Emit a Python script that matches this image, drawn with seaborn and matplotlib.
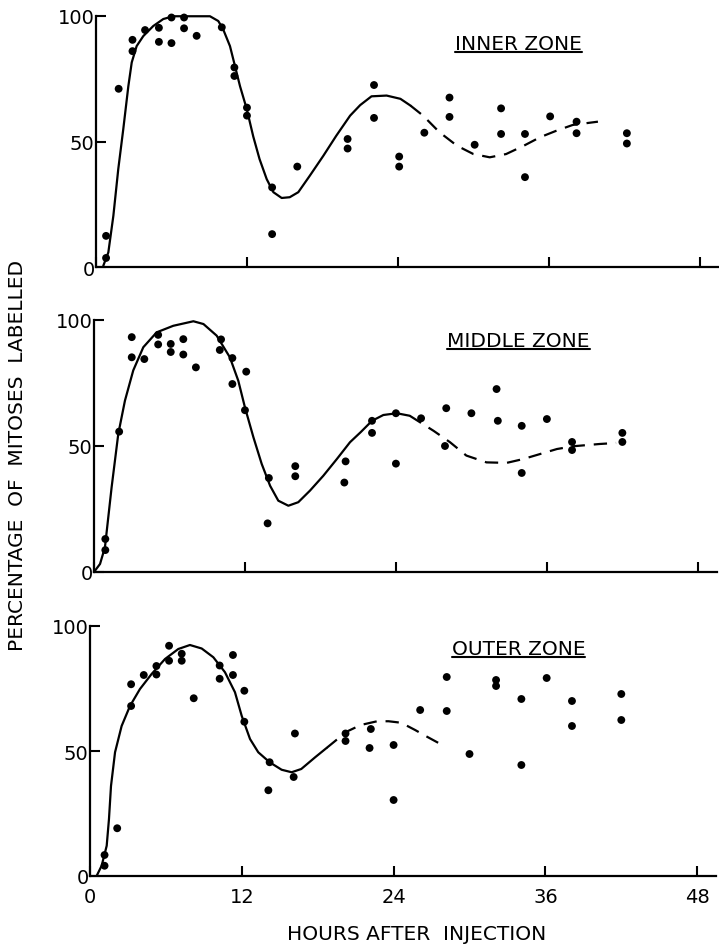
import matplotlib
matplotlib.use("Agg")
import matplotlib.pyplot as plt
import seaborn as sns
from matplotlib.lines import Line2D

# Percentage of labelled mitoses vs hours after injection, three zones
# points
inner_hours = [0.8, 0.8, 1.8, 2.9, 2.9, 3.9, 5.0, 5.0, 6.0, 6.0, 7.0, 7.0, 8.0, 10.0,
               11.0, 11.0, 12.0, 12.0, 14.0, 14.0, 16.0, 20.0, 20.0, 22.1, 22.1,
               24.1, 24.1, 26.1, 28.1, 28.1, 30.1, 32.2, 32.2, 34.1, 34.1, 36.1,
               38.2, 38.2, 42.2, 42.2]
inner_pct = [3.6, 12.4, 71, 90.5, 86, 94.4, 95.3, 89.7, 99.4, 89.2, 99.4, 95.1, 92.1, 95.5,
             79.5, 76.1, 63.5, 60.3, 31.7, 13.1, 40, 51, 47.2, 72.5, 59.4,
             44, 40, 53.5, 67.5, 59.8, 48.7, 63.2, 53, 53, 35.8, 60,
             57.9, 53.3, 53.3, 49.2]

middle_hours = [0.9, 0.9, 2.0, 3.0, 3.0, 4.0, 5.1, 5.1, 6.1, 6.1, 7.1, 7.1, 8.1, 10.1,
                10.0, 11.0, 11.0, 12.1, 12.0, 13.9, 13.8, 16.0, 16.0, 20.0, 19.9,
                22.1, 22.1, 24.0, 24.0, 26.0, 28.0, 27.9, 30.0, 32.0, 32.1, 34.0,
                34.0, 36.0, 38.0, 38.0, 42.0, 42.0]
middle_pct = [8.7, 13.1, 55.7, 93.2, 85.2, 84.5, 94.1, 90.3, 90.5, 87.3, 92.4, 86.3, 81.2, 92.3,
              88.1, 84.9, 74.6, 79.5, 64.2, 37.3, 19.3, 42, 38, 43.9, 35.5,
              60, 55.2, 63, 43, 61, 65, 50, 63, 72.6, 60, 58,
              39.3, 60.7, 51.6, 48.4, 55.2, 51.6]

outer_hours = [1.15, 1.15, 2.15, 3.25, 3.25, 4.25, 5.25, 5.25, 6.25, 6.25, 7.25, 7.25, 8.2,
               10.25, 10.25, 11.3, 11.3, 12.2, 12.2, 14.2, 14.1, 16.2, 16.1, 20.2, 20.2,
               22.2, 22.1, 24.0, 24.0, 26.1, 28.2, 28.2, 30.0, 32.1, 32.1, 34.1, 34.1,
               36.1, 38.1, 38.1, 42.0, 42.0]
outer_pct = [4.1, 8.4, 19.1, 76.7, 68, 80.4, 84, 80.6, 92.1, 86.1, 88.9, 86.1, 71.1,
             84.2, 78.9, 88.4, 80.4, 74.1, 61.7, 45.5, 34.3, 57, 39.6, 57, 54,
             58.8, 51.2, 52.4, 30.4, 66.4, 79.6, 66, 48.8, 78.4, 76, 70.8, 44.4,
             79.2, 70, 60, 72.8, 62.4]

# hand-drawn fitted curves: solid part, then dashed continuation
inner_fit_h = [0.58, 0.98, 1.38, 1.77, 2.17, 2.57, 2.84, 3.23, 3.76, 4.55, 5.35, 6.15, 7.47,
               9.06, 9.72, 10.1, 10.65, 11.05, 11.45, 11.98, 12.5, 13.0, 13.57, 14.1, 14.76,
               15.4, 16.08, 17.0, 18.07, 19.1, 20.2, 21.0, 21.9, 23.1, 24.2, 25.0]
inner_fit_pct = [0.5, 5.8, 20.4, 39, 55, 72, 81.5, 88, 92, 96, 98.8, 99.9, 99.9,
                 99.9, 98, 94.8, 88, 80, 72, 63, 52, 43, 35, 29.8, 27.5,
                 27.8, 29.8, 36.4, 44.3, 52.3, 60.3, 64.5, 68, 68.3, 67, 64.3]
inner_dash_h = [25.0, 26.0, 27.3, 28.7, 30.0, 31.3, 32.6, 34.0, 35.3, 36.6, 37.9, 39.9]
inner_dash_pct = [64.3, 60.3, 53.7, 48.3, 45, 43.7, 45, 48.3, 51.7, 54.3, 56.6, 57.9]

middle_fit_h = [0.0, 0.48, 0.87, 1.4, 1.93, 2.46, 3.12, 3.92, 4.98, 6.3, 7.9, 8.7, 9.75,
                10.8, 11.47, 12.0, 12.67, 13.33, 14.0, 14.65, 15.45, 16.24, 17.17, 18.23,
                19.3, 20.35, 21.2, 22.1, 23.0, 24.06, 25.1]
middle_fit_pct = [0.0, 3.2, 9.8, 33.6, 54.8, 68, 80, 89.2, 95.1, 97.7, 99.5, 98.4, 93.8,
                  85.2, 75.9, 65.3, 53.5, 42.9, 34.2, 28.3, 26.3, 27.7, 32.3, 38.2,
                  44.8, 51.5, 55.5, 60, 62.3, 63, 62]
middle_dash_h = [25.1, 27.0, 28.3, 29.6, 31.2, 32.8, 34.1, 35.45, 36.8, 38.1, 40.2, 41.5]
middle_dash_pct = [62, 56, 51.5, 46.2, 43.5, 43.3, 44.8, 46.8, 48.8, 49.9, 50.8, 51.2]

outer_fit_h = [0.53, 0.92, 1.32, 1.5, 1.66, 1.98, 2.5, 3.16, 3.95, 4.87, 5.93, 6.98, 7.9,
               8.83, 9.75, 10.67, 11.46, 11.99, 12.65, 13.3, 14.2, 15.15, 15.94, 16.7,
               17.8, 18.7]
outer_fit_pct = [0.1, 4.1, 12.1, 22.8, 36, 49.5, 60, 68, 74.8, 80.8, 86.8, 90.8, 92.4,
                 91, 87.5, 81.5, 73.5, 64.1, 54.8, 49.5, 45.5, 42.5, 41.5, 42.8,
                 47.5, 51.2]
outer_dash_h = [18.7, 19.5, 20.4, 21.4, 22.7, 23.6, 24.6, 25.7, 26.5, 27.7]
outer_dash_pct = [51.2, 54.5, 58, 60.4, 61.9, 61.9, 61.3, 58.4, 56.1, 52.8]

zone_names = ["INNER ZONE", "MIDDLE ZONE", "OUTER ZONE"]
x_ticks = [0, 12, 24, 36, 48]
y_ticks = [0, 50, 100]

sns.set_style("ticks")
plt.rcParams["font.family"] = ["DejaVu Sans"]
for key in ["text.color", "axes.edgecolor", "axes.labelcolor", "xtick.color", "ytick.color"]:
    plt.rcParams[key] = "black"

W, H = 719, 945
fig = plt.figure(figsize=(W / 100, H / 100), dpi=100)

# frame of each panel in pixels: left, y of 0%, y of 100%, px per hour, title baseline
frames = [(96, 268, 17, 12.58, 50),
          (94, 573, 321, 12.58, 347),
          (90, 877, 627, 12.65, 655)]
xmax = 49.5

series = [
    (inner_hours, inner_pct, inner_fit_h, inner_fit_pct, inner_dash_h, inner_dash_pct),
    (middle_hours, middle_pct, middle_fit_h, middle_fit_pct, middle_dash_h, middle_dash_pct),
    (outer_hours, outer_pct, outer_fit_h, outer_fit_pct, outer_dash_h, outer_dash_pct),
]

titles = []
for i, ((left, y0, y100, pph, tb), (hx, py, fh, fp, dh, dp)) in enumerate(zip(frames, series)):
    ax = fig.add_axes([left / W, (H - y0) / H, xmax * pph / W, (y0 - y100) / H])
    sns.lineplot(x=fh, y=fp, ax=ax, color="black", lw=1.6, estimator=None,
                 sort=False, clip_on=False)
    sns.lineplot(x=dh, y=dp, ax=ax, color="black", lw=1.6, estimator=None,
                 sort=False, clip_on=False, linestyle=(0, (6, 4)))
    sns.scatterplot(x=hx, y=py, ax=ax, color="black", s=32, edgecolor="none",
                    clip_on=False, zorder=3)
    ax.set_xlim(0, xmax)
    ax.set_ylim(0, 100)
    sns.despine(ax=ax)
    for side in ["left", "bottom"]:
        ax.spines[side].set_linewidth(1.6)
    ax.set_xticks(x_ticks)
    ax.set_yticks(y_ticks)
    ax.set_yticklabels([str(t) for t in y_ticks])
    ax.tick_params(direction="in", length=7, width=1.5, labelsize=14)
    ax.tick_params(axis="y", pad=1)
    ax.tick_params(axis="x", pad=8)
    if i < 2:
        ax.tick_params(axis="x", labelbottom=False)
    else:
        ax.set_xticklabels([str(t) for t in x_ticks])
    ax.set_xlabel("")
    ax.set_ylabel("")
    t = fig.text(518.5 / W, (H - tb) / H, zone_names[i], ha="center", va="baseline",
                 fontsize=14.5)
    titles.append((t, tb))

fig.text(417 / W, (H - 940) / H, "HOURS AFTER  INJECTION", ha="center",
         va="baseline", fontsize=14.5)
fig.text(17.5 / W, (H - 455) / H, "PERCENTAGE  OF  MITOSES  LABELLED", ha="center",
         va="center", rotation=90, fontsize=14.5)

# underline the zone titles
fig.canvas.draw()
r = fig.canvas.get_renderer()
for t, tb in titles:
    bb = t.get_window_extent(r)
    yl = (H - tb - 3) / H
    fig.add_artist(Line2D([bb.x0 / W, bb.x1 / W], [yl, yl], transform=fig.transFigure,
                          color="black", lw=1.5))

fig.savefig("out.png", dpi=100)
